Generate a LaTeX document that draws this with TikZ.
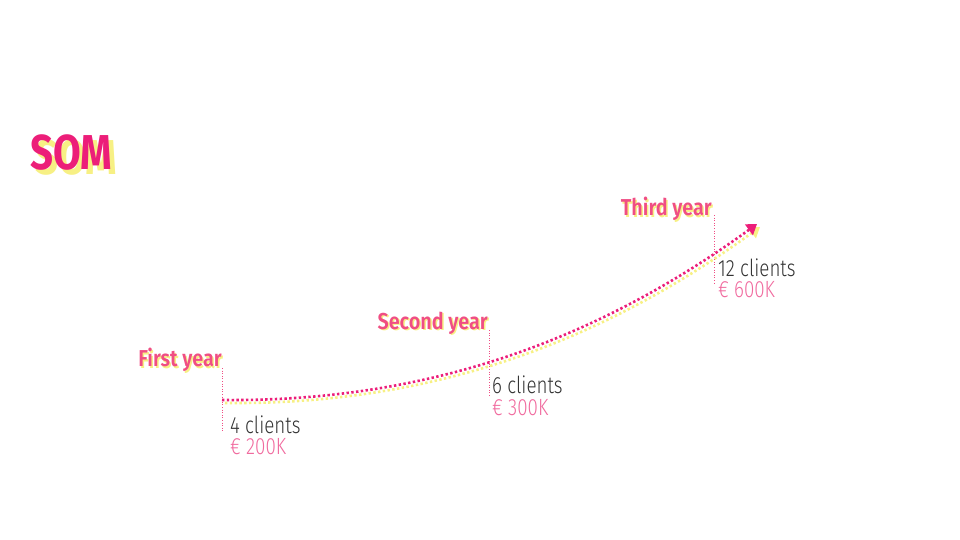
\documentclass[tikz,border=0pt]{standalone}
\usepackage{fontspec}
\setmainfont{Fira Sans}[FakeStretch=0.82]
\newfontfamily\lightfont{Fira Sans Light}[FakeStretch=0.8]
\newfontfamily\yearfont{Fira Sans SemiBold}[FakeStretch=0.86]
\usetikzlibrary{arrows.meta,positioning}

\definecolor{sompink}{HTML}{EC1E79}
\definecolor{yearpink}{HTML}{F04E84}
\definecolor{valpink}{HTML}{F06A9E}
\definecolor{shadowyellow}{HTML}{F7F084}
\definecolor{textgrey}{HTML}{333333}

\tikzset{
  title/.style={font=\bfseries\fontsize{49}{54}\selectfont, text=sompink, inner sep=0pt, anchor=west},
  year/.style={font=\yearfont\fontsize{23}{26}\selectfont, text=yearpink, inner sep=0pt, anchor=east},
  clients/.style={font=\lightfont\fontsize{23.5}{26}\selectfont, text=textgrey, inner sep=0pt, anchor=west},
  money/.style={clients, text=valpink},
  tick/.style={draw=yearpink, line width=0.8pt, dash pattern=on 1pt off 1.6pt},
  growth/.style={line width=2.6pt, dash pattern=on 2.4pt off 2.4pt, -{Triangle[length=10pt,width=13pt]}},
}

\begin{document}
\begin{tikzpicture}[x=1pt,y=1pt]
\useasboundingbox (0,0) rectangle (960,-540);

% title with shadow
\node[title, text=shadowyellow] (somshadow) at (35,-158) {SOM};
\node[title] (som) at (30,-153) {SOM};

% year labels
\node[year, text=shadowyellow] (y1shadow) at (223.5,-361.5) {First year};
\node[year] (y1) at (222,-360) {First year};
\node[year, text=shadowyellow] (y2shadow) at (489.5,-324.5) {Second year};
\node[year] (y2) at (488,-323) {Second year};
\node[year, text=shadowyellow] (y3shadow) at (713.5,-210.5) {Third year};
\node[year] (y3) at (712,-209) {Third year};

% values
\node[clients] (c1) at (230,-425) {4 clients};
\node[money] (m1) at (230,-447) {€ 200K};
\node[clients] (c2) at (492,-385) {6 clients};
\node[money] (m2) at (492,-408) {€ 300K};
\node[clients] (c3) at (718,-268) {12 clients};
\node[money] (m3) at (718,-290) {€ 600K};

% ticks
\coordinate (t1a) at (222,-368);
\coordinate (t1b) at (222,-433);
\coordinate (t2a) at (489,-330);
\coordinate (t2b) at (489,-397);
\coordinate (t3a) at (714,-215);
\coordinate (t3b) at (714,-285);
\draw[tick] (t1a) -- (t1b);
\draw[tick] (t2a) -- (t2b);
\draw[tick] (t3a) -- (t3b);

% growth curve
\coordinate (start) at (222,-400);
\coordinate (tip) at (757,-224);
\draw[growth, shadowyellow] ([shift={(3,-3)}]start) .. controls (423,-405) and (593,-348) .. ([shift={(3,-3)}]tip);
\draw[growth, sompink] (start) .. controls (420,-402) and (590,-345) .. (tip);
\end{tikzpicture}
\end{document}
